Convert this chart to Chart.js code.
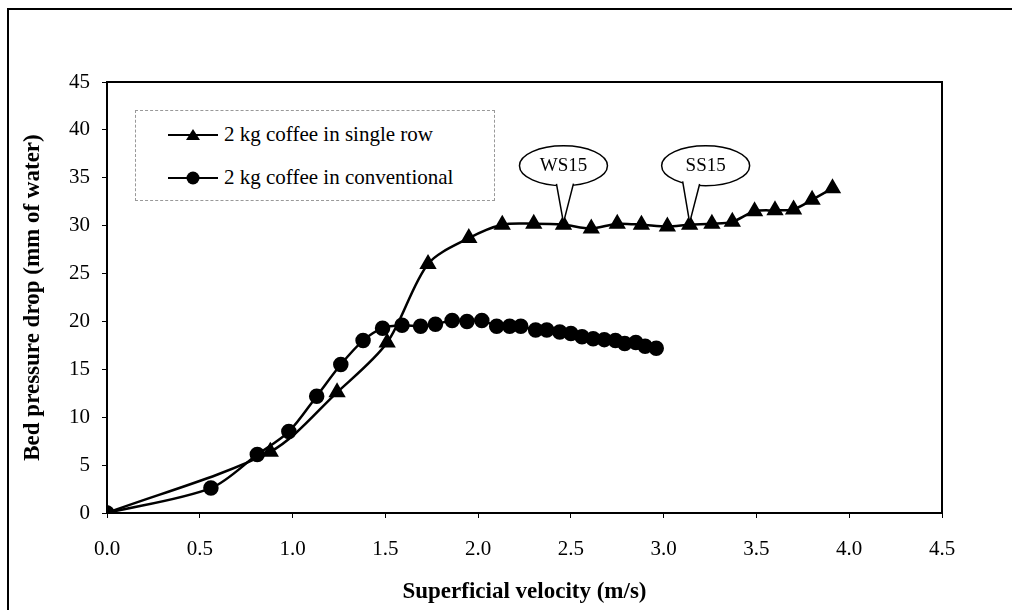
<!DOCTYPE html>
<html lang="en">
<head>
    <meta charset="UTF-8">
    <title>Bed pressure drop</title>
    <style>
        body { margin: 0; background: #fff; }
        #wrap { position: relative; width: 1012px; height: 610px; overflow: hidden; }
        #frame {
            position: absolute; left: 7px; top: 8px; width: 1200px; height: 800px;
            border-left: 2px solid #000; border-top: 2px solid #000;
        }
        canvas { position: absolute; left: 0; top: 0; }
        #legend {
            position: absolute; left: 135px; top: 110px; width: 358px; height: 89px;
            border: 1px dashed #999; background: #fff;
            font-family: "Liberation Serif", "Times New Roman", serif; font-size: 21px; color: #000;
        }
        #legend div { position: absolute; left: 32px; display: flex; align-items: center; }
        #legend svg { margin-right: 6px; }
    </style>
    <script src="https://cdn.jsdelivr.net/npm/chart.js"></script>
</head>
<body>
<div id="wrap">
    <div id="frame"></div>
    <canvas id="chart" width="1012" height="610"></canvas>
    <div id="legend"></div>
</div>
<script>
    // series labels
    const seriesNames = ['2 kg coffee in single row', '2 kg coffee in conventional'];

    // single row (triangles)
    const singleX = [0, 0.88, 1.24, 1.51, 1.73, 1.95, 2.13, 2.30, 2.46, 2.61, 2.75, 2.88, 3.02, 3.14, 3.26, 3.37, 3.49, 3.60, 3.70, 3.80, 3.91];
    const singleY = [0, 6.4, 12.6, 17.8, 26.0, 28.7, 30.1, 30.2, 30.1, 29.7, 30.2, 30.1, 29.9, 30.1, 30.2, 30.4, 31.5, 31.6, 31.7, 32.7, 33.9];

    // conventional (circles)
    const convX = [0, 0.56, 0.81, 0.98, 1.13, 1.26, 1.38, 1.485, 1.59, 1.69, 1.77, 1.86, 1.94, 2.02, 2.10, 2.17, 2.23, 2.31, 2.37, 2.44, 2.50, 2.56, 2.62, 2.68, 2.74, 2.79, 2.85, 2.90, 2.96];
    const convY = [0, 2.6, 6.1, 8.5, 12.2, 15.5, 18.0, 19.3, 19.6, 19.5, 19.7, 20.1, 20.0, 20.1, 19.5, 19.5, 19.5, 19.1, 19.1, 18.9, 18.75, 18.4, 18.2, 18.1, 18.0, 17.7, 17.8, 17.4, 17.2];

    // tick labels
    const xTicks = ['0.0', '0.5', '1.0', '1.5', '2.0', '2.5', '3.0', '3.5', '4.0', '4.5'];
    const yTicks = ['0', '5', '10', '15', '20', '25', '30', '35', '40', '45'];

    // callouts on the single row series
    const calloutText = ['WS15', 'SS15'];
    const calloutX = [2.46, 3.14];
    const calloutY = [30.1, 30.1];

    const serif = '"Liberation Serif", "Times New Roman", serif';
    const toPoints = (xs, ys) => xs.map((x, i) => ({ x: x, y: ys[i] }));

    // plot border + callout balloons
    const framePlugin = {
        id: 'framePlugin',
        afterDatasetsDraw(chart) {
            const { ctx, chartArea: a, scales } = chart;
            ctx.save();
            ctx.strokeStyle = '#000';
            ctx.lineWidth = 2;
            ctx.strokeRect(a.left, a.top, a.right - a.left, a.bottom - a.top);

            const shift = [0, 16];
            calloutText.forEach((txt, i) => {
                const px = scales.x.getPixelForValue(calloutX[i]);
                const py = scales.y.getPixelForValue(calloutY[i]);
                const cx = px + shift[i], cy = py - 59, rx = 44, ry = 20;
                ctx.lineWidth = 1.5;
                ctx.beginPath();
                ctx.ellipse(cx, cy, rx, ry, 0, 0, Math.PI * 2);
                ctx.fillStyle = '#fff';
                ctx.fill();
                ctx.stroke();
                const a1 = px - 7 - cx, a2 = px + 10 - cx;
                const e1 = cy + ry * Math.sqrt(1 - (a1 / rx) ** 2) - 1.5;
                const e2 = cy + ry * Math.sqrt(1 - (a2 / rx) ** 2) - 1.5;
                ctx.beginPath();
                ctx.moveTo(cx + a1, e1);
                ctx.lineTo(px, py - 2);
                ctx.lineTo(cx + a2, e2);
                ctx.fill();
                ctx.stroke();
                ctx.fillStyle = '#000';
                ctx.font = '19px ' + serif;
                ctx.textAlign = 'center';
                ctx.textBaseline = 'middle';
                ctx.fillText(txt, cx, cy);
            });
            ctx.restore();
        }
    };

    const ctx = document.getElementById('chart').getContext('2d');
    new Chart(ctx, {
        type: 'line',
        data: {
            datasets: [
                {
                    label: seriesNames[0],
                    data: toPoints(singleX, singleY),
                    borderColor: '#000',
                    backgroundColor: '#000',
                    borderWidth: 2.5,
                    pointStyle: 'triangle',
                    pointRadius: 7.5,
                    tension: 0.3
                },
                {
                    label: seriesNames[1],
                    data: toPoints(convX, convY),
                    borderColor: '#000',
                    backgroundColor: '#000',
                    borderWidth: 2.5,
                    pointStyle: 'circle',
                    pointRadius: 6.5,
                    tension: 0.3
                }
            ]
        },
        options: {
            responsive: false,
            animation: false,
            layout: { padding: { left: 0, top: 82, right: 70, bottom: 0 } },
            plugins: {
                legend: { display: false },
                tooltip: { enabled: false }
            },
            scales: {
                x: {
                    type: 'linear',
                    min: 0, max: 4.5,
                    afterFit: s => { s.height = 97; },
                    afterBuildTicks: s => { s.ticks = xTicks.map(t => ({ value: parseFloat(t) })); },
                    ticks: {
                        callback: (v, i) => xTicks[i],
                        color: '#000', padding: 19, maxRotation: 0,
                        font: { family: serif, size: 21 }
                    },
                    grid: { drawOnChartArea: false, color: '#000', tickLength: 5, tickWidth: 1 },
                    border: { color: '#000', width: 2 },
                    title: {
                        display: true, text: 'Superficial velocity (m/s)', color: '#000',
                        font: { family: serif, size: 23, weight: 'bold' },
                        padding: { bottom: 4 }
                    }
                },
                y: {
                    min: 0, max: 45,
                    afterFit: s => { s.width = 107; },
                    afterBuildTicks: s => { s.ticks = yTicks.map(t => ({ value: parseFloat(t) })); },
                    ticks: {
                        callback: (v, i) => yTicks[i],
                        color: '#000', padding: 12,
                        font: { family: serif, size: 21 }
                    },
                    grid: { drawOnChartArea: false, color: '#000', tickLength: 5, tickWidth: 1 },
                    border: { color: '#000', width: 2 },
                    title: {
                        display: true, text: 'Bed pressure drop (mm of water)', color: '#000',
                        font: { family: serif, size: 23, weight: 'bold' },
                        padding: { top: 19 }
                    }
                }
            }
        },
        plugins: [framePlugin]
    });

    // legend box inside the plot
    const legend = document.getElementById('legend');
    const glyphs = [
        '<polygon points="25,1 32,12 18,12" fill="#000"/>',
        '<circle cx="25" cy="7" r="6.5" fill="#000"/>'
    ];
    seriesNames.forEach((name, i) => {
        const row = document.createElement('div');
        row.style.top = (i === 0 ? 11 : 54) + 'px';
        row.innerHTML = '<svg width="50" height="14"><line x1="0" y1="7" x2="50" y2="7" stroke="#000" stroke-width="2"/>' +
            glyphs[i] + '</svg><span>' + name + '</span>';
        legend.appendChild(row);
    });
</script>
</body>
</html>
